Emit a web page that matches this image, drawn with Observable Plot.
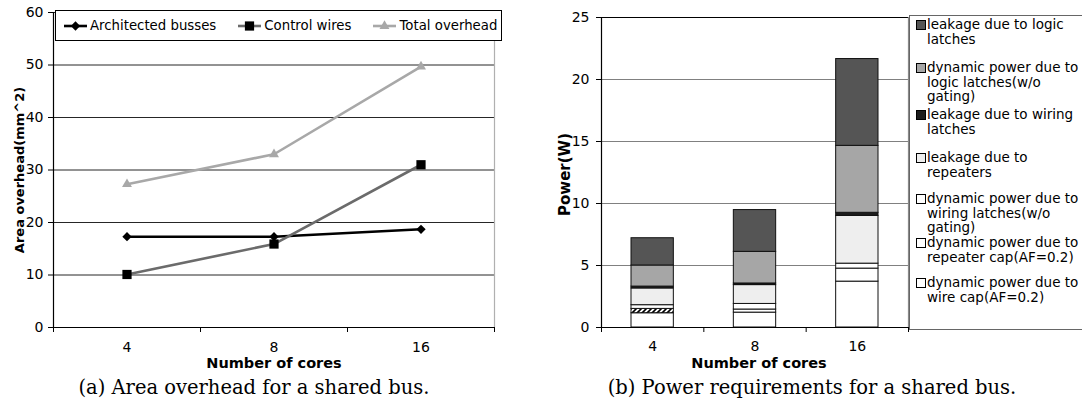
<!DOCTYPE html>
<html><head><meta charset="utf-8">
<script src="https://cdn.jsdelivr.net/npm/d3@7"></script>
<script src="https://cdn.jsdelivr.net/npm/@observablehq/plot@0.6"></script>
<style>
body{margin:0;background:#fff;}
#root{position:relative;width:1082px;height:405px;overflow:hidden;font-family:"DejaVu Sans",sans-serif;color:#000;}
.caption{position:absolute;top:376px;font-family:"DejaVu Serif",serif;font-size:19.5px;line-height:24px;white-space:nowrap;transform:translateX(-50%);}
#legA{position:absolute;left:55px;top:10px;width:437px;height:29px;border:1px solid #000;background:#fff;display:flex;align-items:center;padding-left:8px;box-sizing:content-box;font-size:13.3px;}
#legA .item{display:flex;align-items:center;margin-right:22px;white-space:nowrap;}
#legA svg{margin-right:3px;}
#legB{position:absolute;left:909px;top:15px;width:200px;height:313px;border:1px solid #666;background:#fff;font-size:13.5px;}
#legB .item{position:absolute;left:0;}
#legB .sw{position:absolute;left:6px;width:8px;height:8px;border:1px solid #000;}
#legB .tx{position:absolute;left:17px;white-space:pre;line-height:14.6px;}
</style></head>
<body>
<div id="root"></div>
<svg width="0" height="0" style="position:absolute"><defs>
<pattern id="hatch" patternUnits="userSpaceOnUse" width="5" height="5">
<rect width="5" height="5" fill="#fff"/>
<path d="M0,5 L5,0 M-1,1 L1,-1 M4,6 L6,4" stroke="#000" stroke-width="1.6"/>
</pattern></defs></svg>
<script>
// ---------- data ----------
const cores = ["4", "8", "16"];

// (a) area overhead (mm^2)
const areaSeries = ["Architected busses", "Control wires", "Total overhead"];
const architected = [17.3, 17.3, 18.7];
const controlWires = [10.1, 15.9, 31.0];
const totalOverhead = [27.3, 33.0, 49.7];
const areaTicks = [0, 10, 20, 30, 40, 50, 60];

// (b) power (W), stacked bottom -> top
const powerSeries = [
  "dynamic power due to wire cap(AF=0.2)",
  "dynamic power due to repeater cap(AF=0.2)",
  "dynamic power due to wiring latches(w/o gating)",
  "leakage due to repeaters",
  "leakage due to wiring latches",
  "dynamic power due to logic latches(w/o gating)",
  "leakage due to logic latches"
];
const powerLegendText = [
  "dynamic power due to\nwire cap(AF=0.2)",
  "dynamic power due to\nrepeater cap(AF=0.2)",
  "dynamic power due to\nwiring latches(w/o\ngating)",
  "leakage due to\nrepeaters",
  "leakage due to wiring\nlatches",
  "dynamic power due to\nlogic latches(w/o\ngating)",
  "leakage due to logic\nlatches"
];
const wireCap = [1.15, 1.2, 3.7];
const repeaterCap = [0.35, 0.25, 1.05];
const wiringLatchesDyn = [0.3, 0.45, 0.4];
const repeaterLeak = [1.35, 1.52, 3.85];
const wiringLatchesLeak = [0.15, 0.13, 0.25];
const logicLatchesDyn = [1.7, 2.55, 5.4];
const logicLatchesLeak = [2.2, 3.37, 7.0];
const powerTicks = [0, 5, 10, 15, 20, 25];
const hatchedCells = [{cores: "4", series: "dynamic power due to repeater cap(AF=0.2)"}];

// ---------- styles ----------
const areaStyle = {
  "Architected busses": {stroke: "#000", fill: "#000", symbol: "diamond2", r: 4.2},
  "Control wires": {stroke: "#6b6b6b", fill: "#000", symbol: "square", r: 5.2},
  "Total overhead": {stroke: "#a8a8a8", fill: "#a8a8a8", symbol: "triangle", r: 3.7}
};
const powerColors = ["#ffffff", "#ffffff", "#ffffff", "#eeeeee", "#1c1c1c", "#a6a6a6", "#555555"];
const FONT = "DejaVu Sans";

// ---------- build tables ----------
const areaValues = [architected, controlWires, totalOverhead];
const areaRows = [];
areaSeries.forEach((s, k) => cores.forEach((c, i) => areaRows.push({series: s, cores: c, idx: i, value: areaValues[k][i]})));

const powerValues = [wireCap, repeaterCap, wiringLatchesDyn, repeaterLeak, wiringLatchesLeak, logicLatchesDyn, logicLatchesLeak];
const powerRows = [];
cores.forEach((c, i) => powerSeries.forEach((s, k) => {
  const hatched = hatchedCells.some(h => h.cores === c && h.series === s);
  powerRows.push({series: s, cores: c, idx: i, value: powerValues[k][i], fill: hatched ? "url(#hatch)" : powerColors[k]});
}));

const root = document.getElementById("root");

// ---------- chart (a) ----------
const plotA = Plot.plot({
  width: 510, height: 372,
  marginLeft: 53, marginRight: 16, marginTop: 12, marginBottom: 45,
  style: {fontFamily: FONT, fontSize: "14px", color: "#000", background: "transparent", overflow: "visible"},
  x: {type: "linear", domain: [0, cores.length]},
  y: {domain: [0, 60]},
  marks: [
    Plot.ruleY(areaTicks.slice(1), {stroke: "#262626", strokeWidth: 1}),
    Plot.ruleX([cores.length], {stroke: "#b0b0b0", strokeWidth: 1.2}),
    Plot.axisY({ticks: areaTicks, tickSize: 5, tickPadding: 5, tickFormat: d => String(d), label: null}),
    Plot.axisX({ticks: d3.range(cores.length + 1), tickSize: 5, tickFormat: () => "", label: null}),
    Plot.axisX({ticks: cores.map((c, i) => i + 0.5), tickSize: 0, tickPadding: 15, tickFormat: d => cores[Math.floor(d)], label: null}),
    Plot.ruleX([0], {stroke: "#000", strokeWidth: 1.2}),
    Plot.ruleY([0], {stroke: "#000", strokeWidth: 1.2}),
    ...areaSeries.map(s => Plot.line(areaRows.filter(d => d.series === s),
      {x: d => d.idx + 0.5, y: "value", stroke: areaStyle[s].stroke, strokeWidth: 2.6})),
    ...areaSeries.map(s => Plot.dot(areaRows.filter(d => d.series === s),
      {x: d => d.idx + 0.5, y: "value", symbol: areaStyle[s].symbol, r: areaStyle[s].r, fill: areaStyle[s].fill, stroke: "none"})),
    Plot.text(["Number of cores"], {frameAnchor: "bottom", dy: 36, fontSize: 14.5, fontWeight: "bold", lineAnchor: "middle"}),
    Plot.text(["Area overhead(mm^2)"], {frameAnchor: "left", dx: -34, rotate: -90, fontSize: 13, fontWeight: "bold", lineAnchor: "middle", textAnchor: "middle"})
  ]
});
plotA.style.position = "absolute"; plotA.style.left = "0px"; plotA.style.top = "0px";
root.appendChild(plotA);

// legend (a)
const legA = document.createElement("div");
legA.id = "legA";
areaSeries.forEach(s => {
  const st = areaStyle[s];
  const item = document.createElement("div");
  item.className = "item";
  const sym = {diamond2: d3.symbolDiamond2, square: d3.symbolSquare, triangle: d3.symbolTriangle}[st.symbol];
  const path = d3.symbol(sym, Math.PI * st.r * st.r)();
  item.innerHTML = `<svg width="23" height="14"><line x1="0" x2="23" y1="7" y2="7" stroke="${st.stroke}" stroke-width="2.6"/><path transform="translate(11.5,7)" d="${path}" fill="${st.fill}"/></svg>`;
  const t = document.createElement("span"); t.textContent = s; item.appendChild(t);
  legA.appendChild(item);
});
root.appendChild(legA);

// ---------- chart (b) ----------
const plotB = Plot.plot({
  width: 370, height: 372,
  marginLeft: 61, marginRight: 2, marginTop: 17, marginBottom: 45,
  style: {fontFamily: FONT, fontSize: "14px", color: "#000", background: "transparent", overflow: "visible"},
  x: {type: "linear", domain: [0, cores.length]},
  y: {domain: [0, 25]},
  color: {type: "identity"},
  marks: [
    Plot.ruleY(powerTicks.slice(1, -1), {stroke: "#808080", strokeWidth: 1}),
    Plot.ruleY([25], {stroke: "#000", strokeWidth: 1.2}),
    Plot.ruleX([cores.length], {stroke: "#8a8a8a", strokeWidth: 1.2}),
    Plot.rectY(powerRows, {x: "idx", interval: 1, y: "value", fill: "fill", stroke: "#111", strokeWidth: 1, insetLeft: 30, insetRight: 30}),
    Plot.axisY({ticks: powerTicks, tickSize: 5, tickPadding: 7, tickFormat: d => String(d), label: null}),
    Plot.axisX({ticks: d3.range(cores.length + 1), tickSize: 5, tickFormat: () => "", label: null}),
    Plot.axisX({ticks: cores.map((c, i) => i + 0.5), tickSize: 0, tickPadding: 14, tickFormat: d => cores[Math.floor(d)], label: null}),
    Plot.ruleX([0], {stroke: "#000", strokeWidth: 1.2}),
    Plot.ruleY([0], {stroke: "#000", strokeWidth: 1.2}),
    Plot.text(["Number of cores"], {frameAnchor: "bottom", dy: 36, dx: 4, fontSize: 14.5, fontWeight: "bold", lineAnchor: "middle"}),
    Plot.text(["Power(W)"], {frameAnchor: "left", dx: -36, dy: 2, rotate: -90, fontSize: 15, fontWeight: "bold", lineAnchor: "middle", textAnchor: "middle"})
  ]
});
plotB.style.position = "absolute"; plotB.style.left = "540px"; plotB.style.top = "0px";
root.appendChild(plotB);

// legend (b): top of stack first
const legB = document.createElement("div");
legB.id = "legB";
const rowTops = [1, 44, 91, 134, 175, 219, 259];
powerSeries.slice().reverse().forEach((s, j) => {
  const k = powerSeries.length - 1 - j;
  const item = document.createElement("div");
  item.className = "item";
  item.style.top = rowTops[j] + "px";
  const sw = document.createElement("div"); sw.className = "sw"; sw.style.top = "3px"; sw.style.background = powerColors[k];
  const tx = document.createElement("div"); tx.className = "tx"; tx.style.top = "0px"; tx.textContent = powerLegendText[k];
  item.appendChild(sw); item.appendChild(tx);
  legB.appendChild(item);
});
root.appendChild(legB);

// captions
const capA = document.createElement("div"); capA.className = "caption"; capA.style.left = "254px";
capA.textContent = "(a) Area overhead for a shared bus."; root.appendChild(capA);
const capB = document.createElement("div"); capB.className = "caption"; capB.style.left = "812px";
capB.textContent = "(b) Power requirements for a shared bus."; root.appendChild(capB);
</script>
</body></html>
